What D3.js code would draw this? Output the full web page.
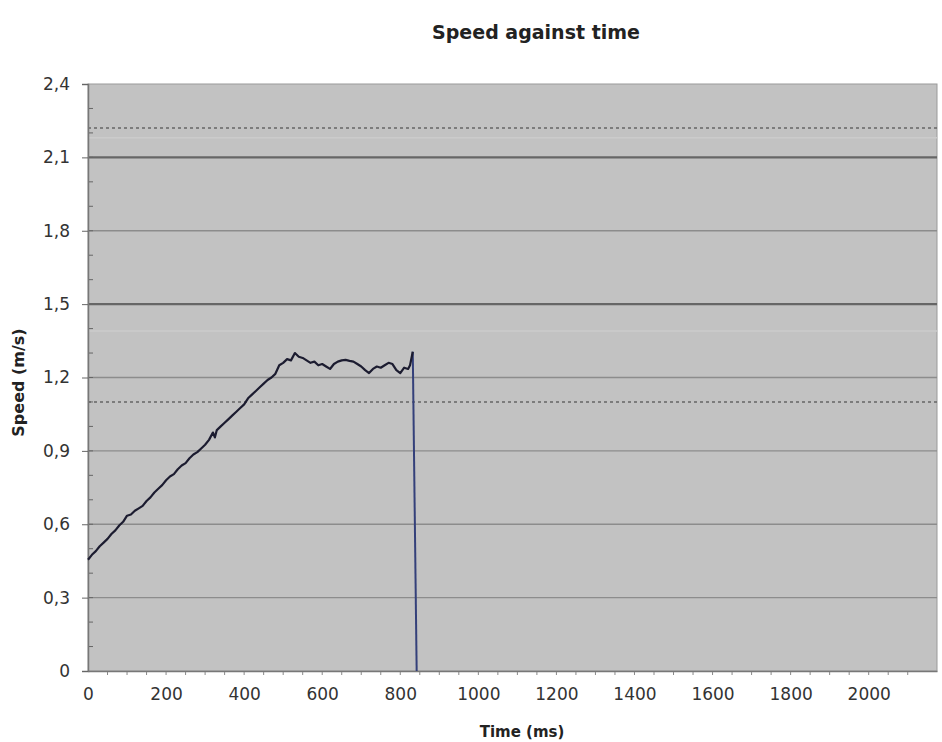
<!DOCTYPE html>
<html>
<head>
<meta charset="utf-8">
<script src="https://cdn.jsdelivr.net/npm/d3@7/dist/d3.min.js"></script>
<style>
  body { margin: 0; background: #fff; }
  svg { display: block; font-family: "DejaVu Sans", Verdana, sans-serif; }
</style>
</head>
<body>
<div id="chart"></div>
<script>
// Measured speed samples (ms, m/s)
const times = [0, 10, 20, 30, 40, 50, 60, 70, 80, 90, 100, 110, 120, 130, 140, 150, 160, 170, 180, 190,
  200, 210, 220, 230, 240, 250, 260, 270, 280, 290, 300, 310, 320, 325, 330, 340, 350, 360, 370, 380,
  390, 400, 410, 420, 430, 440, 450, 460, 470, 480, 490, 500, 510, 520, 530, 540, 550, 560, 570, 580,
  590, 600, 610, 620, 630, 640, 650, 660, 670, 680, 690, 700, 710, 720, 730, 740, 750, 760, 770, 780,
  790, 800, 810, 820, 825, 832]
const speeds = [0.455, 0.475, 0.49, 0.51, 0.525, 0.54, 0.56, 0.575, 0.595, 0.61, 0.635, 0.64, 0.655, 0.665, 0.675, 0.695, 0.71, 0.73, 0.745, 0.76,
  0.78, 0.795, 0.805, 0.825, 0.84, 0.85, 0.87, 0.885, 0.895, 0.91, 0.925, 0.945, 0.975, 0.955, 0.985, 1.0, 1.015, 1.03, 1.045, 1.06,
  1.075, 1.09, 1.115, 1.13, 1.145, 1.16, 1.175, 1.19, 1.2, 1.215, 1.25, 1.26, 1.275, 1.27, 1.3, 1.285, 1.28, 1.27, 1.26, 1.265,
  1.25, 1.255, 1.245, 1.235, 1.255, 1.265, 1.27, 1.272, 1.268, 1.265, 1.255, 1.245, 1.23, 1.218, 1.235, 1.245, 1.24, 1.25, 1.26, 1.255,
  1.23, 1.218, 1.24, 1.235, 1.25, 1.305]
// end of run: speed falls to zero
const dropTimes = [832, 842]
const dropSpeeds = [1.305, 0]

const yTicks = [0, 0.3, 0.6, 0.9, 1.2, 1.5, 1.8, 2.1, 2.4]
const xTicks = [0, 200, 400, 600, 800, 1000, 1200, 1400, 1600, 1800, 2000]
const strongLines = [1.5, 2.1]
const dashedLines = [2.22, 1.1]
const faintLines = [2.18, 1.39]

const width = 942, height = 742
const margin = { top: 84, right: 5, bottom: 71, left: 88 }

const x = d3.scaleLinear().domain([0, 2175]).range([margin.left, width - margin.right])
const y = d3.scaleLinear().domain([0, 2.4]).range([height - margin.bottom, margin.top])
const fmt = d => d3.format(".1f")(d).replace(".", ",").replace(/^0,0$/, "0")

const svg = d3.select("#chart").append("svg")
  .attr("width", width)
  .attr("height", height)

// Plot background
svg.append("rect")
  .attr("x", x(0)).attr("y", y(2.4))
  .attr("width", x.range()[1] - x(0)).attr("height", y(0) - y(2.4))
  .attr("fill", "#c2c2c2")
  .attr("stroke", "#9a9a9a")

// Faint band lines
svg.append("g").selectAll("line").data(faintLines).join("line")
  .attr("x1", x(0)).attr("x2", x.range()[1])
  .attr("y1", d => y(d)).attr("y2", d => y(d))
  .attr("stroke", "#cbcbcb").attr("stroke-width", 1.5)

// Horizontal gridlines
svg.append("g").selectAll("line").data(yTicks.filter(d => d > 0 && d < 2.4)).join("line")
  .attr("x1", x(0)).attr("x2", x.range()[1])
  .attr("y1", d => y(d)).attr("y2", d => y(d))
  .attr("stroke", d => strongLines.includes(d) ? "#666" : "#8c8c8c")
  .attr("stroke-width", d => strongLines.includes(d) ? 2.2 : 1.3)

svg.append("g").selectAll("line").data(dashedLines).join("line")
  .attr("x1", x(0)).attr("x2", x.range()[1])
  .attr("y1", d => y(d)).attr("y2", d => y(d))
  .attr("stroke", "#666").attr("stroke-width", 1.6)
  .attr("stroke-dasharray", "3,3")

// Axes
const yAxis = svg.append("g")
  .attr("transform", `translate(${x(0)},0)`)
  .call(d3.axisLeft(y).tickValues(yTicks).tickFormat(fmt).tickSize(6).tickPadding(12))
const xAxis = svg.append("g")
  .attr("transform", `translate(0,${y(0)})`)
  .call(d3.axisBottom(x).tickValues(xTicks).tickFormat(d3.format("d")).tickSize(0).tickPadding(17))

for (const ax of [yAxis, xAxis]) {
  ax.select(".domain").attr("stroke", "#777").attr("stroke-width", 1.5)
  ax.selectAll(".tick line").attr("stroke", "#666")
  ax.selectAll("text").attr("font-size", 17).attr("fill", "#333")
    .attr("font-family", "'DejaVu Sans', Verdana, sans-serif")
}

// Minor ticks
svg.append("g").selectAll("line").data(d3.range(0.1, 2.4, 0.1)).join("line")
  .attr("x1", x(0) + 1).attr("x2", x(0) + 5)
  .attr("y1", d => y(d)).attr("y2", d => y(d))
  .attr("stroke", "#666")
svg.append("g").selectAll("line").data(d3.range(50, 2150, 50)).join("line")
  .attr("x1", d => x(d)).attr("x2", d => x(d))
  .attr("y1", y(0) + 1).attr("y2", y(0) + 4)
  .attr("stroke", "#888")

// Data line
const line = d3.line().x(d => x(d[0])).y(d => y(d[1]))
svg.append("path")
  .datum(d3.zip(dropTimes, dropSpeeds))
  .attr("d", line)
  .attr("fill", "none").attr("stroke", "#34407a").attr("stroke-width", 2)
svg.append("path")
  .datum(d3.zip(times, speeds))
  .attr("d", line)
  .attr("fill", "none").attr("stroke", "#1c1c30").attr("stroke-width", 2.2)
  .attr("stroke-linejoin", "round")

// Titles
svg.append("text")
  .attr("x", 536).attr("y", 39)
  .attr("text-anchor", "middle")
  .attr("font-size", 19).attr("font-weight", "bold").attr("fill", "#222")
  .text("Speed against time")

svg.append("text")
  .attr("x", 522).attr("y", 737)
  .attr("text-anchor", "middle")
  .attr("font-size", 15).attr("font-weight", "bold").attr("fill", "#222")
  .text("Time (ms)")

svg.append("text")
  .attr("transform", `translate(24,${(y(0) + y(2.4)) / 2 + 5}) rotate(-90)`)
  .attr("text-anchor", "middle")
  .attr("font-size", 16).attr("font-weight", "bold").attr("fill", "#222")
  .text("Speed (m/s)")
</script>
</body>
</html>
